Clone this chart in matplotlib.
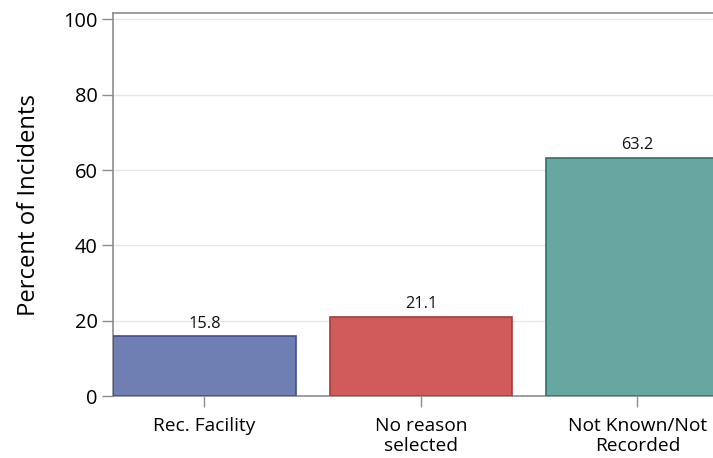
import matplotlib
matplotlib.use("Agg")
import matplotlib.pyplot as plt

categories = ["Rec. Facility", "No reason\nselected", "Not Known/Not\nRecorded"]
values = [15.8, 21.1, 63.2]
face_colors = ["#6F7EB3", "#D05B5B", "#66A8A1"]
edge_colors = ["#3F4E96", "#A83A3A", "#2E736B"]
yticks = [0, 20, 40, 60, 80, 100]

plt.rcParams['font.family'] = ['Open Sans', 'DejaVu Sans']

fig = plt.figure(figsize=(7.13, 4.58), dpi=100)
ax = fig.add_axes([113/713, 1 - 396/458, 1 - 113/713, (396 - 13)/458])

w = 0.845
x = list(range(len(categories)))
bars = ax.bar(x, values, width=w, color=face_colors, edgecolor=edge_colors, linewidth=1.2, zorder=3)
for xi, v in zip(x, values):
    ax.text(xi, v + 1.2, f"{v:.1f}", ha="center", va="bottom", fontsize=11.8, color="#111111", zorder=4)

ax.set_xlim(-w/2, (713 - 113)/216.5 - w/2)
ax.set_ylim(0, 101.7)
ax.set_yticks(yticks)
ax.set_xticks(x)
ax.set_xticklabels(categories, fontsize=13.8, linespacing=1.12)
ax.tick_params(axis='y', labelsize=14.4, length=8, width=1, color="#8C8C8C", pad=3)
ax.tick_params(axis='x', length=8, width=1, color="#8C8C8C", pad=7)
ax.set_ylabel("Percent of Incidents", fontsize=17.2, labelpad=16)
ax.yaxis.grid(True, color="#E6E6E6", linewidth=1, zorder=0)
ax.set_axisbelow(True)
for s in ["left", "top", "bottom"]:
    ax.spines[s].set_color("#8C8C8C")
    ax.spines[s].set_linewidth(1.2)
ax.spines["right"].set_visible(False)

fig.savefig("out.png", dpi=100)
